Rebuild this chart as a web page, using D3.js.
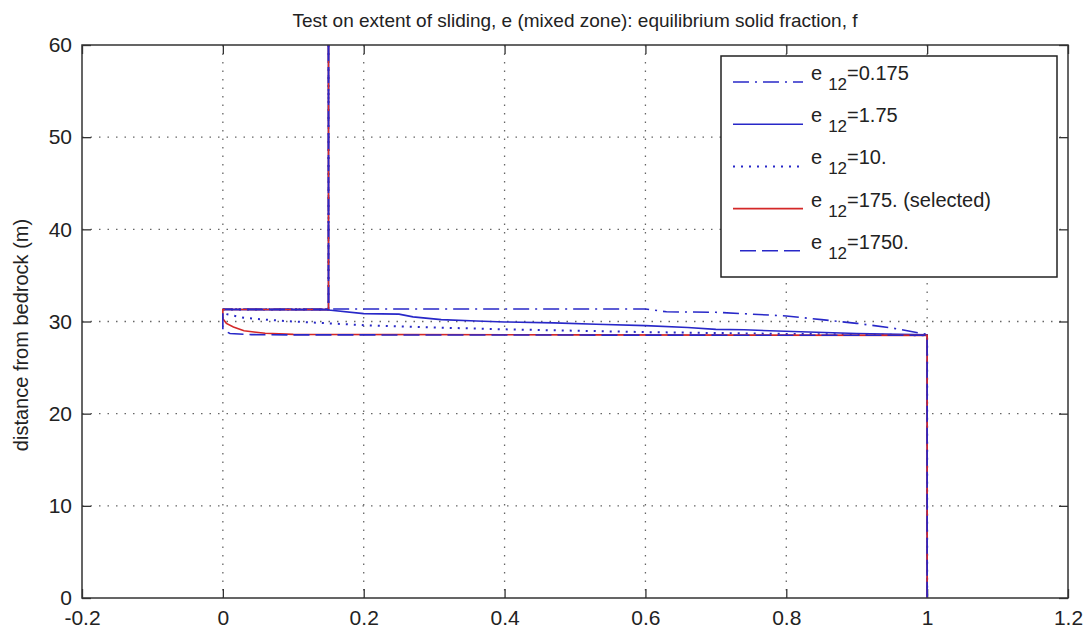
<!DOCTYPE html>
<html>
<head>
<meta charset="utf-8">
<script src="https://cdn.jsdelivr.net/npm/d3@7"></script>
<style>
  html, body { margin: 0; padding: 0; background: #fff; }
  svg { display: block; font-family: "Liberation Sans", Arial, sans-serif; }
</style>
</head>
<body>
<svg id="chart" width="1085" height="631"></svg>
<script>
// ---------- DATA ----------
const titleText = "Test on extent of sliding, e (mixed zone): equilibrium solid fraction, f";
const yLabelText = "distance from bedrock (m)";
const xTicks = [-0.2, 0, 0.2, 0.4, 0.6, 0.8, 1, 1.2];
const xTickLabels = ["-0.2", "0", "0.2", "0.4", "0.6", "0.8", "1", "1.2"];
const yTicks = [0, 10, 20, 30, 40, 50, 60];
const yTickLabels = ["0", "10", "20", "30", "40", "50", "60"];

const seriesNames = ["0.175", "1.75", "10.", "175. (selected)", "1750."];

// each point: [solid fraction f, distance from bedrock (m)]
const e0175 = [[0.15,60],[0.15,31.35],[0,31.35],[0.3,31.35],[0.6,31.35],[0.63,31.05],[0.7,31.0],[0.75,30.8],[0.8,30.6],[0.85,30.2],[0.9,29.8],[0.95,29.3],[1.0,28.6],[1.0,0]];
const e175 = [[0.15,60],[0.15,31.3],[0,31.3],[0.15,31.25],[0.2,30.85],[0.25,30.8],[0.27,30.5],[0.31,30.2],[0.36,30.05],[0.4,29.95],[0.47,29.85],[0.53,29.7],[0.6,29.55],[0.66,29.35],[0.7,29.15],[0.74,29.1],[0.82,28.88],[0.9,28.7],[1.0,28.55],[1.0,0]];
const e10 = [[0.15,60],[0.15,31.3],[0,31.3],[0.005,30.8],[0.03,30.4],[0.06,30.2],[0.1,30.0],[0.15,29.8],[0.2,29.6],[0.3,29.35],[0.4,29.15],[0.5,29.0],[0.6,28.85],[0.7,28.75],[0.8,28.65],[0.9,28.6],[1.0,28.5],[1.0,0]];
const e175sel = [[0.15,60],[0.15,31.3],[0,31.3],[0,30.3],[0.005,29.8],[0.015,29.4],[0.03,29.0],[0.06,28.72],[0.1,28.6],[0.5,28.55],[1.0,28.5],[1.0,0]];
const e1750 = [[0.15,60],[0.15,31.3],[0,31.3],[0,29.1],[0.01,28.7],[0.04,28.58],[0.1,28.55],[1.0,28.5],[1.0,0]];

const seriesData = [e0175, e175, e10, e175sel, e1750];
const seriesColors = ["#2828c8", "#2828c8", "#2828c8", "#d42828", "#2828c8"];
const seriesDash = ["16,6,2,6", null, "2,6", null, "16,6"];
const seriesWidth = [1.6, 1.6, 2, 1.6, 1.6];

// ---------- LAYOUT ----------
const svg = d3.select("#chart");
const L = 82, R = 1068, T = 45, B = 598;
const x = d3.scaleLinear().domain([-0.2, 1.2]).range([L, R]);
const y = d3.scaleLinear().domain([0, 60]).range([B, T]);

// grid
const grid = svg.append("g");
xTicks.slice(1, -1).forEach(v => {
  grid.append("line").attr("x1", x(v)).attr("x2", x(v)).attr("y1", T).attr("y2", B)
    .attr("stroke", "#666").attr("stroke-width", 1.3).attr("stroke-dasharray", "1.5,7");
});
yTicks.slice(1, -1).forEach(v => {
  grid.append("line").attr("x1", L).attr("x2", R).attr("y1", y(v)).attr("y2", y(v))
    .attr("stroke", "#666").attr("stroke-width", 1.3).attr("stroke-dasharray", "1.5,7");
});

// axes (ticks inward)
const axB = d3.axisBottom(x).tickValues(xTicks).tickSize(-9).tickPadding(12)
  .tickFormat((d, i) => xTickLabels[i]);
const axT = d3.axisTop(x).tickValues(xTicks).tickSize(-9).tickFormat("");
const axLft = d3.axisLeft(y).tickValues(yTicks).tickSize(-9).tickPadding(10)
  .tickFormat((d, i) => yTickLabels[i]);
const axRt = d3.axisRight(y).tickValues(yTicks).tickSize(-9).tickFormat("");

function styleAxis(g) {
  g.select(".domain").remove();
  g.selectAll(".tick line").attr("stroke", "#333").attr("stroke-width", 1.3);
  g.selectAll(".tick text").attr("fill", "#222").attr("font-size", "21px")
    .attr("font-family", "'Liberation Sans', Arial, sans-serif");
}
svg.append("g").attr("transform", `translate(0,${B})`).call(axB).call(styleAxis);
svg.append("g").attr("transform", `translate(0,${T})`).call(axT).call(styleAxis);
svg.append("g").attr("transform", `translate(${L},0)`).call(axLft).call(styleAxis);
svg.append("g").attr("transform", `translate(${R},0)`).call(axRt).call(styleAxis);

// series
const line = d3.line().x(d => x(d[0])).y(d => y(d[1]));
seriesData.forEach((s, i) => {
  svg.append("path").datum(s).attr("d", line).attr("fill", "none")
    .attr("stroke", seriesColors[i]).attr("stroke-width", seriesWidth[i])
    .attr("stroke-dasharray", seriesDash[i]);
});

// frame
svg.append("rect").attr("x", L).attr("y", T).attr("width", R - L).attr("height", B - T)
  .attr("fill", "none").attr("stroke", "#333").attr("stroke-width", 1.5);

// title
svg.append("text").attr("x", (L + R) / 2).attr("y", 27).attr("text-anchor", "middle")
  .attr("font-size", "19px").attr("fill", "#222").text(titleText);

// y label
svg.append("text").attr("transform", `translate(28,335) rotate(-90)`)
  .attr("text-anchor", "middle").attr("font-size", "20px").attr("fill", "#222").text(yLabelText);

// legend
const lg = svg.append("g");
lg.append("rect").attr("x", 721).attr("y", 56).attr("width", 336).attr("height", 221)
  .attr("fill", "#fff").attr("stroke", "#222").attr("stroke-width", 1.5);
seriesNames.forEach((name, i) => {
  const ly = 82 + i * 42.2;
  lg.append("line").attr("x1", i === 4 ? 740 : 733).attr("x2", 803).attr("y1", ly).attr("y2", ly)
    .attr("stroke", seriesColors[i]).attr("stroke-width", seriesWidth[i])
    .attr("stroke-dasharray", seriesDash[i]);
  const t = lg.append("text").attr("x", 811).attr("y", ly - 2).attr("font-size", "20px").attr("fill", "#222");
  t.append("tspan").text("e");
  t.append("tspan").attr("font-size", "17px").attr("dx", 6).attr("dy", 10).text("12");
  t.append("tspan").attr("dy", -10).text("=" + name);
});
</script>
</body>
</html>
